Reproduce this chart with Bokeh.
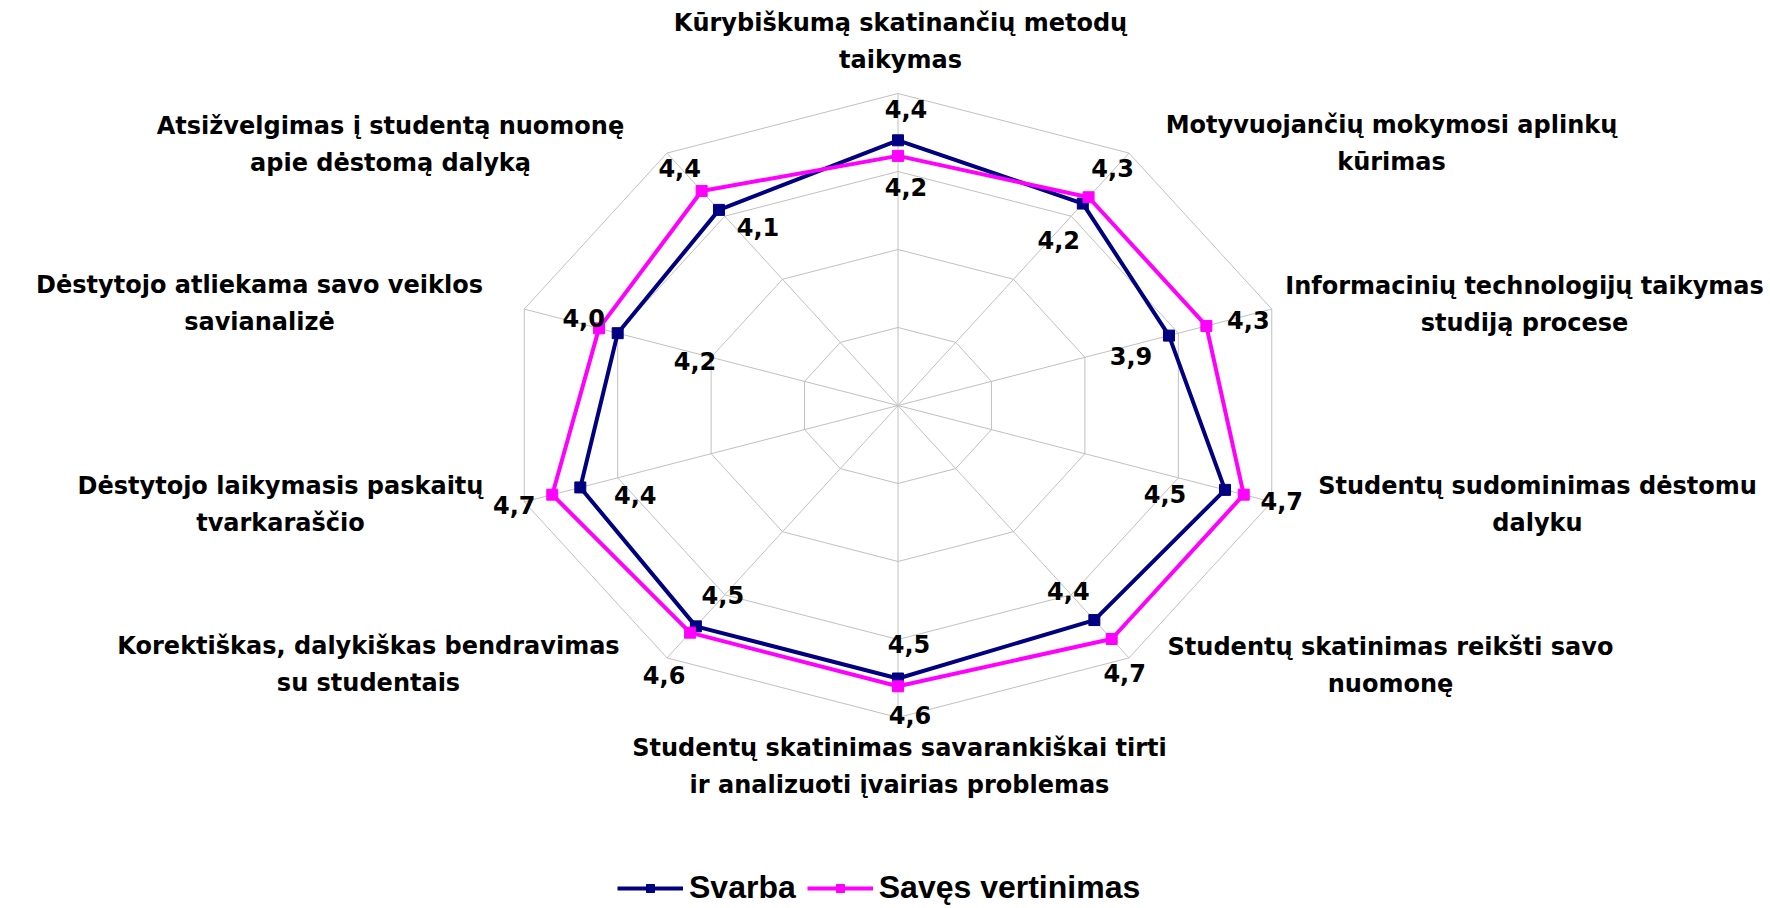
import math
from bokeh.plotting import figure
from bokeh.models import Range1d, ColumnDataSource, Legend, LegendItem
from bokeh.embed import file_html
from bokeh.resources import INLINE
from bokeh.core.properties import value

# ---------------- data ----------------
categories = [
    "Kūrybiškumą skatinančių metodų\ntaikymas",
    "Motyvuojančių mokymosi aplinkų\nkūrimas",
    "Informacinių technologijų taikymas\nstudiją procese",
    "Studentų sudominimas dėstomu\ndalyku",
    "Studentų skatinimas reikšti savo\nnuomonę",
    "Studentų skatinimas savarankiškai tirti\nir analizuoti įvairias problemas",
    "Korektiškas, dalykiškas bendravimas\nsu studentais",
    "Dėstytojo laikymasis paskaitų\ntvarkaraščio",
    "Dėstytojo atliekama savo veiklos\nsavianalizė",
    "Atsižvelgimas į studentą nuomonę\napie dėstomą dalyką",
]
svarba = [4.4, 4.2, 3.9, 4.5, 4.4, 4.5, 4.5, 4.4, 4.0, 4.1]
saves_vertinimas = [4.2, 4.3, 4.3, 4.7, 4.7, 4.6, 4.6, 4.7, 4.2, 4.4]
series_names = ["Svarba", "Savęs vertinimas"]
scale_min, scale_max = 1.0, 5.0
ring_values = [2.0, 3.0, 4.0, 5.0]

# ---------------- layout (pixels) ----------------
W, H = 1770, 908
CX, CY = 897.5, 405.0      # centre in window px
RX, RY = 393.0, 312.0      # stretched radar radii
PAGE = 0

# label offsets (px, +y down) for each point's value label
off_svarba = [(8, -31), (-24, 36), (-38, 20), (-60, 4), (-26, -29),
              (11, -35), (27, -31), (55, 8), (-34, -15), (39, 17)]
off_saves = [(8, 31), (24, -29), (42, -6), (38, 6), (13, 34),
             (12, 29), (-26, 42), (-38, 10), (96, 33), (-22, -23)]
# category label block centres (window px)
cat_pos = [(900, 41), (1391, 143), (1524, 304), (1537, 504), (1390, 665),
           (899, 766), (368, 664), (280, 504), (259, 303), (390, 144)]

def to_data(X, Y):
    return (X - CX) / RX, (CY - Y) / RY

n = len(categories)
angles = [2 * math.pi * i / n for i in range(n)]

def norm(v):
    return (v - scale_min) / (scale_max - scale_min)

def polar(vals):
    xs = [norm(v) * math.sin(a) for v, a in zip(vals, angles)]
    ys = [norm(v) * math.cos(a) for v, a in zip(vals, angles)]
    return xs, ys

x0, y0 = to_data(PAGE, PAGE)
x1, y1 = to_data(PAGE + W, PAGE + H)

p = figure(width=W, height=H, output_backend="svg", toolbar_location=None,
           x_range=Range1d(x0, x1), y_range=Range1d(y1, y0),
           min_border=0, outline_line_color=None)
p.axis.visible = False
p.grid.visible = False
p.background_fill_color = "white"
p.border_fill_color = "white"

grid_col = "#c0c0c0"
# rings
for rv in ring_values:
    gx, gy = polar([rv] * n)
    p.line(gx + [gx[0]], gy + [gy[0]], line_color=grid_col, line_width=1)
# spokes
ox, oy = polar([scale_max] * n)
p.segment(x0=[0] * n, y0=[0] * n, x1=ox, y1=oy, line_color=grid_col, line_width=1)

colors = ["#000080", "#FF00FF"]
all_series = [svarba, saves_vertinimas]
offsets = [off_svarba, off_saves]
legend_items = []
for name, vals, col in zip(series_names, all_series, colors):
    sx, sy = polar(vals)
    ln = p.line(sx + [sx[0]], sy + [sy[0]], line_color=col, line_width=4)
    sc = p.scatter(sx, sy, marker="square", size=11, fill_color=col, line_color=col)
    legend_items.append(LegendItem(label=name, renderers=[ln, sc]))

for vals, offs in zip(all_series, offsets):
    sx, sy = polar(vals)
    src = ColumnDataSource(dict(
        x=sx, y=sy,
        t=[f"{v:.1f}".replace(".", ",") for v in vals],
        dx=[o[0] for o in offs], dy=[o[1] for o in offs]))
    p.text(x="x", y="y", text="t", x_offset="dx", y_offset="dy", source=src,
           text_font=value("DejaVu Sans"), text_font_style="bold",
           text_font_size="24px", text_color="black",
           text_align="center", text_baseline="middle")

cx_l = [to_data(*c)[0] for c in cat_pos]
cy_l = [to_data(*c)[1] for c in cat_pos]
p.text(x=cx_l, y=cy_l, text=categories,
       text_font=value("DejaVu Sans"), text_font_style="bold",
       text_font_size="24px", text_color="black", text_line_height=1.32,
       text_align="center", text_baseline="middle")

legend = Legend(items=legend_items, orientation="horizontal",
                location=(617, 2), padding=0, margin=0, spacing=11,
                glyph_width=66, glyph_height=20, label_standoff=6,
                label_text_font="Liberation Sans", label_text_font_style="bold",
                label_text_font_size="32px", label_height=30,
                label_text_color="black",
                border_line_color=None, background_fill_alpha=0)
p.add_layout(legend, "center")

open("out.html", "w").write(file_html(p, INLINE))
